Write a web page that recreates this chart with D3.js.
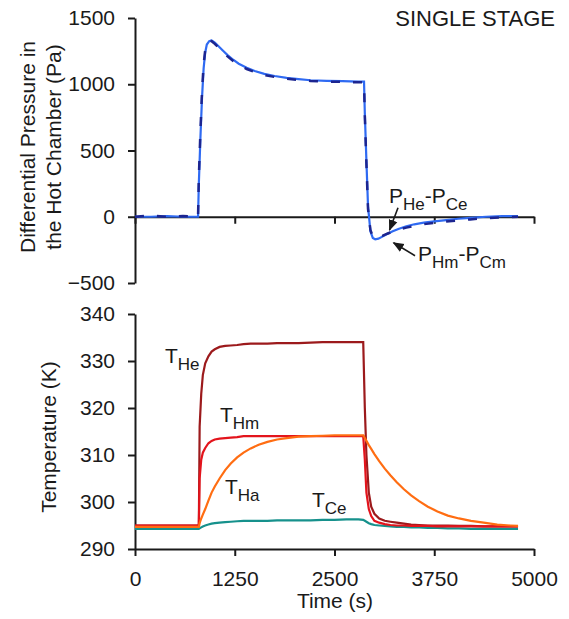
<!DOCTYPE html>
<html>
<head>
<meta charset="utf-8">
<script src="https://cdn.jsdelivr.net/npm/d3@7"></script>
<style>
    body { margin: 0; background: #fff; }
    text { font-family: "Liberation Sans", Arial, sans-serif; fill: #1a1a1a; }
</style>
</head>
<body>
<div id="chart"></div>
<script>
// pressure panel data (s, Pa)
var timeP = [0, 200, 400, 600, 790, 800, 820, 840, 860, 880, 900, 930, 960, 1000, 1050, 1100, 1160, 1230, 1300, 1400,
    1500, 1620, 1750, 1900, 2050, 2200, 2400, 2600, 2800, 2870, 2880, 2900, 2920, 2950, 2980, 3010, 3050, 3100, 3160,
    3230, 3300, 3400, 3500, 3620, 3750, 3900, 4050, 4200, 4400, 4600, 4800];
var pHmCm = [0, 0, 5, 0, 0, 250, 600, 900, 1120, 1240, 1300, 1325, 1330, 1315, 1285, 1255, 1220, 1185, 1155, 1125,
    1100, 1078, 1062, 1048, 1038, 1030, 1026, 1023, 1020, 1020, 780, 420, 80, -110, -160, -170, -165, -150, -130,
    -110, -92, -72, -57, -45, -35, -25, -15, -8, 0, 5, 5];
var pHeCe = [0, 10, 0, 5, 0, 300, 650, 950, 1150, 1260, 1310, 1330, 1325, 1305, 1275, 1245, 1210, 1175, 1145, 1115,
    1092, 1070, 1055, 1042, 1032, 1025, 1020, 1018, 1015, 1015, 760, 400, 60, -100, -150, -160, -158, -145, -128,
    -112, -98, -82, -68, -56, -46, -36, -27, -20, -10, -5, 0];

// temperature panel data (s, K)
var timeT = [0, 400, 800, 810, 830, 850, 880, 920, 960, 1000, 1060, 1130, 1200, 1280, 1360, 1450, 1550, 1660, 1780,
    1900, 2050, 2200, 2350, 2500, 2650, 2800, 2860, 2880, 2900, 2930, 2960, 3000, 3060, 3130, 3200, 3280, 3370, 3460,
    3560, 3670, 3790, 3920, 4060, 4210, 4370, 4540, 4700, 4800];
var tHe = [295, 295, 295, 316, 323, 327, 329.5, 331, 332, 332.5, 333, 333.2, 333.3, 333.4, 333.6, 333.7, 333.7, 333.7,
    333.8, 333.8, 333.8, 333.9, 334, 334, 334, 334, 334, 320, 310, 302, 299, 297.5, 296.5, 296, 295.8, 295.6, 295.4,
    295.2, 295.1, 295, 295, 295, 294.9, 294.9, 294.8, 294.8, 294.8, 294.8];
var tHm = [295, 295, 295, 305, 309, 310.5, 311.5, 312.5, 313, 313.3, 313.5, 313.6, 313.7, 313.8, 314, 314, 314, 314,
    314, 314, 314, 314, 314, 314, 314, 314, 314, 309, 302, 298.5, 297, 296, 295.6, 295.3, 295.1, 295, 295, 294.9,
    294.9, 294.9, 294.8, 294.8, 294.8, 294.8, 294.8, 294.8, 294.8, 294.8];
var tHa = [294.7, 294.7, 294.7, 295.5, 296.5, 297.3, 298.5, 300.3, 302, 303.3, 305, 306.8, 308.2, 309.5, 310.5, 311.4,
    312.2, 312.8, 313.3, 313.6, 313.9, 314, 314.1, 314.2, 314.2, 314.2, 314.2, 313.6, 313, 312.1, 311.3, 310.2, 308.7,
    307.1, 305.7, 304.2, 302.7, 301.4, 300.2, 299, 298, 297.1, 296.5, 296, 295.6, 295.2, 295, 294.9];
var tCe = [294.3, 294.3, 294.3, 294.4, 294.6, 294.8, 295, 295.2, 295.4, 295.5, 295.6, 295.7, 295.8, 295.9, 296, 296,
    296, 296, 296.1, 296.1, 296.1, 296.1, 296.2, 296.2, 296.3, 296.3, 296.2, 296, 295.8, 295.5, 295.3, 295.1, 295,
    294.9, 294.8, 294.7, 294.7, 294.6, 294.6, 294.5, 294.5, 294.4, 294.4, 294.3, 294.3, 294.3, 294.3, 294.3];

var timeTicks = [0, 1250, 2500, 3750, 5000];
var pressureTicks = [-500, 0, 500, 1000, 1500];
var tempTicks = [290, 300, 310, 320, 330, 340];

function init() {
    var w = 569;
    var h = 619;
    var fmt = d3.format("d");

    var svg = d3.select("#chart")
        .append("svg")
        .attr("width", w)
        .attr("height", h);

    var defs = svg.append("defs");
    defs.append("marker")
        .attr("id", "arrow")
        .attr("viewBox", "0 0 10 10")
        .attr("refX", 9)
        .attr("refY", 5)
        .attr("markerWidth", 7)
        .attr("markerHeight", 7)
        .attr("orient", "auto")
        .append("path")
        .attr("d", "M0,1 L10,5 L0,9 z")
        .attr("fill", "#1a1a1a");

    var xScale = d3.scaleLinear().domain([0, 5000]).range([135, 534]);
    var yP = d3.scaleLinear().domain([-500, 1500]).range([283, 18]);
    var yT = d3.scaleLinear().domain([290, 340]).range([549, 314]);

    // ---- top panel: pressure ----
    svg.append("g")
        .attr("class", "axis")
        .attr("transform", "translate(0," + yP(0) + ")")
        .call(d3.axisBottom(xScale).tickValues(timeTicks).tickSize(7).tickSizeOuter(0).tickFormat(""));

    svg.append("g")
        .attr("class", "axis")
        .attr("transform", "translate(" + xScale(0) + ",0)")
        .call(d3.axisLeft(yP).tickValues(pressureTicks).tickSize(7).tickSizeOuter(0).tickPadding(13).tickFormat(fmt));

    var lineP = function (vals) {
        return d3.line()
            .x(function (d, i) { return xScale(timeP[i]); })
            .y(function (d) { return yP(d); })(vals);
    };

    svg.append("path")
        .attr("d", lineP(pHmCm))
        .attr("fill", "none")
        .attr("stroke", "#2f6af2")
        .attr("stroke-width", 2.2);

    svg.append("path")
        .attr("d", lineP(pHeCe))
        .attr("fill", "none")
        .attr("stroke", "#1c2590")
        .attr("stroke-width", 2.5)
        .attr("stroke-dasharray", "9,13");

    // ---- bottom panel: temperature ----
    svg.append("g")
        .attr("class", "axis")
        .attr("transform", "translate(0," + yT(290) + ")")
        .call(d3.axisBottom(xScale).tickValues(timeTicks).tickSize(7).tickSizeOuter(0).tickPadding(15).tickFormat(fmt));

    svg.append("g")
        .attr("class", "axis")
        .attr("transform", "translate(" + xScale(0) + ",0)")
        .call(d3.axisLeft(yT).tickValues(tempTicks).tickSize(7).tickSizeOuter(0).tickPadding(13).tickFormat(fmt));

    var lineT = function (vals) {
        return d3.line()
            .x(function (d, i) { return xScale(timeT[i]); })
            .y(function (d) { return yT(d); })(vals);
    };

    var tempSeries = [
        { vals: tCe, color: "#16918c" },
        { vals: tHe, color: "#9c1a1c" },
        { vals: tHm, color: "#e3141c" },
        { vals: tHa, color: "#ff6d12" }
    ];

    svg.selectAll(".tline")
        .data(tempSeries)
        .enter()
        .append("path")
        .attr("class", "tline")
        .attr("d", function (d) { return lineT(d.vals); })
        .attr("fill", "none")
        .attr("stroke", function (d) { return d.color; })
        .attr("stroke-width", 2.2);

    // axis styling
    svg.selectAll(".axis path, .axis line")
        .attr("stroke", "#1a1a1a")
        .attr("stroke-width", 2);
    svg.selectAll(".axis text")
        .attr("font-size", "21px")
        .attr("fill", "#1a1a1a");

    // axis titles
    svg.append("text")
        .attr("text-anchor", "middle")
        .attr("font-size", "21px")
        .attr("transform", "translate(35,147) rotate(-90)")
        .text("Differential Pressure in");
    svg.append("text")
        .attr("text-anchor", "middle")
        .attr("font-size", "21px")
        .attr("transform", "translate(61,147) rotate(-90)")
        .text("the Hot Chamber (Pa)");
    svg.append("text")
        .attr("text-anchor", "middle")
        .attr("font-size", "21px")
        .attr("transform", "translate(56,437) rotate(-90)")
        .text("Temperature (K)");
    svg.append("text")
        .attr("text-anchor", "middle")
        .attr("font-size", "21px")
        .attr("x", 335)
        .attr("y", 608)
        .text("Time (s)");

    svg.append("text")
        .attr("text-anchor", "end")
        .attr("font-size", "22px")
        .attr("x", 555)
        .attr("y", 26)
        .text("SINGLE STAGE");

    // series labels, placed in data units
    function subLabel(parts, x, y) {
        var t = svg.append("text")
            .attr("x", x)
            .attr("y", y)
            .attr("font-size", "21px");
        var low = false;
        parts.forEach(function (p) {
            var isSub = p.sub;
            var dy = 0;
            if (isSub && !low) { dy = 7; low = true; }
            if (!isSub && low) { dy = -7; low = false; }
            t.append("tspan")
                .attr("dy", dy)
                .attr("font-size", isSub ? "17px" : "21px")
                .text(p.s);
        });
    }

    subLabel([{ s: "T" }, { s: "He", sub: true }], xScale(376), yT(329.6));
    subLabel([{ s: "T" }, { s: "Hm", sub: true }], xScale(1065), yT(317));
    subLabel([{ s: "T" }, { s: "Ha", sub: true }], xScale(1128), yT(301.7));
    subLabel([{ s: "T" }, { s: "Ce", sub: true }], xScale(2218), yT(298.9));

    subLabel([{ s: "P" }, { s: "He", sub: true }, { s: "-P" }, { s: "Ce", sub: true }], xScale(3183), yP(106));
    subLabel([{ s: "P" }, { s: "Hm", sub: true }, { s: "-P" }, { s: "Cm", sub: true }], xScale(3546), yP(-332));

    var arrows = [
        { t0: 3296, p0: 68, t1: 3190, p1: -100 },
        { t0: 3509, p0: -294, t1: 3240, p1: -196 }
    ];
    svg.selectAll(".arrow")
        .data(arrows)
        .enter()
        .append("line")
        .attr("class", "arrow")
        .attr("x1", function (d) { return xScale(d.t0); })
        .attr("y1", function (d) { return yP(d.p0); })
        .attr("x2", function (d) { return xScale(d.t1); })
        .attr("y2", function (d) { return yP(d.p1); })
        .attr("stroke", "#1a1a1a")
        .attr("stroke-width", 1.6)
        .attr("marker-end", "url(#arrow)");
}
window.onload = init;
</script>
</body>
</html>
